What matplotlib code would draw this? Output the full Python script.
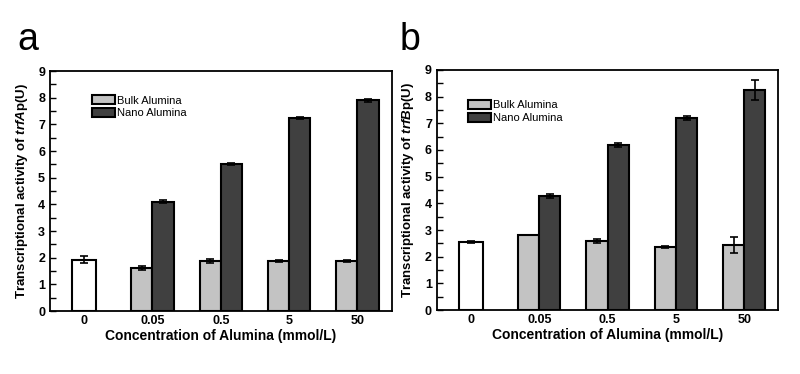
import numpy as np
import matplotlib
matplotlib.use("Agg")
from matplotlib import pyplot as plt
from matplotlib.ticker import MultipleLocator

plt.rcParams['font.family'] = ['Liberation Sans', 'DejaVu Sans']
plt.rcParams['mathtext.fontset'] = 'custom'
plt.rcParams['mathtext.it'] = 'Liberation Sans:italic:bold'
plt.rcParams['mathtext.rm'] = 'Liberation Sans:bold'

categories = ['0', '0.05', '0.5', '5', '50']

# panel a: trfAp
ctrl_a, ctrl_a_err = 1.93, 0.12
bulk_a = [1.62, 1.88, 1.88, 1.88]
bulk_a_err = [0.06, 0.07, 0.04, 0.04]
nano_a = [4.10, 5.52, 7.23, 7.90]
nano_a_err = [0.06, 0.04, 0.03, 0.05]

# panel b: trfBp
ctrl_b, ctrl_b_err = 2.54, 0.03
bulk_b = [2.81, 2.58, 2.36, 2.43]
bulk_b_err = [0.01, 0.07, 0.05, 0.31]
nano_b = [4.27, 6.19, 7.20, 8.24]
nano_b_err = [0.07, 0.06, 0.06, 0.38]

BULK = '#c3c3c3'
NANO = '#404040'


def draw_panel(ax, ctrl, ctrl_err, bulk, bulk_err, nano, nano_err, gene, leg_pos):
    x = np.arange(1, len(categories))
    w = 0.31
    ekw = dict(elinewidth=1.2, capthick=1.2, capsize=3, ecolor='black')
    ax.bar([0], [ctrl], 0.35, yerr=[ctrl_err], color='white', edgecolor='black',
           linewidth=1.5, error_kw=ekw)
    ax.bar(x - w / 2, bulk, w, yerr=bulk_err, color=BULK, edgecolor='black',
           linewidth=1.5, error_kw=ekw, label='Bulk Alumina')
    ax.bar(x + w / 2, nano, w, yerr=nano_err, color=NANO, edgecolor='black',
           linewidth=1.5, error_kw=ekw, label='Nano Alumina')
    ax.set_xlim(-0.5, len(categories) - 0.5)
    ax.set_ylim(0, 9)
    ax.set_xticks(np.arange(len(categories)))
    ax.set_xticklabels(categories, fontweight='bold', fontsize=9)
    ax.tick_params(axis='x', length=0, pad=3)
    ax.yaxis.set_major_locator(MultipleLocator(1))
    ax.yaxis.set_minor_locator(MultipleLocator(0.5))
    ax.tick_params(axis='y', which='both', direction='in', length=4, width=1, labelsize=9)
    for lbl in ax.get_yticklabels():
        lbl.set_fontweight('bold')
    for s in ax.spines.values():
        s.set_linewidth(1.3)
    ax.set_xlabel('Concentration of Alumina (mmol/L)', fontweight='bold', fontsize=10, labelpad=1)
    ax.set_ylabel('Transcriptional activity of $\\it{' + gene + '}$p(U)',
                  fontweight='bold', fontsize=9.5, labelpad=6)
    ax.legend(loc='upper left', bbox_to_anchor=leg_pos, frameon=False, fontsize=8,
              handlelength=2.1, handleheight=0.9, handletextpad=0.15, labelspacing=0.2,
              borderaxespad=0, borderpad=0)


fig = plt.figure(figsize=(8, 3.74), dpi=100)
ax1 = fig.add_axes([0.0625, 0.168, 0.427, 0.642])
ax2 = fig.add_axes([0.546, 0.171, 0.427, 0.642])

draw_panel(ax1, ctrl_a, ctrl_a_err, bulk_a, bulk_a_err, nano_a, nano_a_err, 'trfA', (0.123, 0.9))
draw_panel(ax2, ctrl_b, ctrl_b_err, bulk_b, bulk_b_err, nano_b, nano_b_err, 'trfB', (0.091, 0.875))

fig.text(0.022, 0.866, 'a', fontsize=27, va='baseline', ha='left')
fig.text(0.5, 0.866, 'b', fontsize=27, va='baseline', ha='left')

fig.savefig('out.png', dpi=100)
